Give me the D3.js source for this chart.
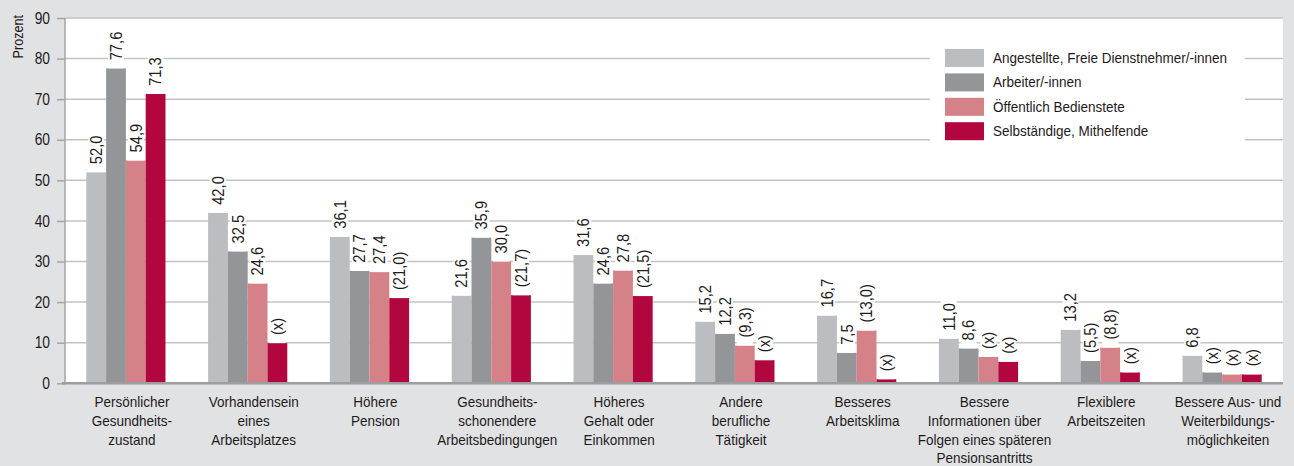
<!DOCTYPE html>
<html>
<head>
<meta charset="utf-8">
<script src="https://cdn.jsdelivr.net/npm/d3@7"></script>
<style>
  body { margin: 0; background: #e1e2e4; }
  svg { display: block; font-family: "Liberation Sans Narrow", "Arial Narrow", "Liberation Sans", sans-serif; }
</style>
</head>
<body>
<svg id="chart" width="1294" height="466"></svg>
<script>
// Categories (multi-line labels)
const categories = [
  ["Persönlicher", "Gesundheits-", "zustand"],
  ["Vorhandensein", "eines", "Arbeitsplatzes"],
  ["Höhere", "Pension"],
  ["Gesundheits-", "schonendere", "Arbeitsbedingungen"],
  ["Höheres", "Gehalt oder", "Einkommen"],
  ["Andere", "berufliche", "Tätigkeit"],
  ["Besseres", "Arbeitsklima"],
  ["Bessere", "Informationen über", "Folgen eines späteren", "Pensionsantritts"],
  ["Flexiblere", "Arbeitszeiten"],
  ["Bessere Aus- und", "Weiterbildungs-", "möglichkeiten"]
];

const seriesNames = [
  "Angestellte, Freie Dienstnehmer/-innen",
  "Arbeiter/-innen",
  "Öffentlich Bedienstete",
  "Selbständige, Mithelfende"
];
const seriesColors = ["#bcbdc1", "#939598", "#d48187", "#b1063e"];

// Values in percent
const angestellte = [52.0, 42.0, 36.1, 21.6, 31.6, 15.2, 16.7, 11.0, 13.2, 6.8];
const arbeiter    = [77.6, 32.5, 27.7, 35.9, 24.6, 12.2, 7.5, 8.6, 5.5, 2.7];
const oeffentlich = [54.9, 24.6, 27.4, 30.0, 27.8, 9.3, 13.0, 6.5, 8.8, 2.2];
const selbst      = [71.3, 9.9, 21.0, 21.7, 21.5, 5.7, 1.0, 5.3, 2.7, 2.2];

// Reliability flags: "n" = shown, "p" = shown in parentheses, "x" = not shown
const angestellteFlags = ["n","n","n","n","n","n","n","n","n","n"];
const arbeiterFlags    = ["n","n","n","n","n","n","n","n","p","x"];
const oeffentlichFlags = ["n","n","n","n","n","p","p","x","p","x"];
const selbstFlags      = ["n","x","p","p","p","x","x","x","x","x"];

const yTicks = [0, 10, 20, 30, 40, 50, 60, 70, 80, 90];
const yLabel = "Prozent";

const seriesValues = [angestellte, arbeiter, oeffentlich, selbst];
const seriesFlags = [angestellteFlags, arbeiterFlags, oeffentlichFlags, selbstFlags];

const svg = d3.select("#chart");
const plotLeft = 65, plotRight = 1283, plotTop = 18, plotBottom = 383.3;
const textColor = "#1e1a1b";
const squeeze = 0.9;

// Narrow the glyphs horizontally to get a condensed type look
function condense(sel, f) {
  sel.each(function () {
    const len = this.getComputedTextLength();
    d3.select(this).attr("textLength", len * f).attr("lengthAdjust", "spacingAndGlyphs");
  });
}

const x = d3.scaleBand().domain(d3.range(categories.length))
  .range([plotLeft, plotRight]).paddingInner(0.35).paddingOuter(0.175);
const xs = d3.scaleBand().domain(d3.range(seriesNames.length)).range([0, x.bandwidth()]);
const y = d3.scaleLinear().domain([0, 90]).range([plotBottom, plotTop]);

// Plot background
svg.append("rect").attr("x", plotLeft).attr("y", plotTop)
  .attr("width", plotRight - plotLeft).attr("height", plotBottom - plotTop).attr("fill", "#fff");

// Gridlines
svg.append("g").selectAll("line").data(yTicks.filter(d => d > 0)).join("line")
  .attr("x1", plotLeft).attr("x2", plotRight)
  .attr("y1", d => y(d)).attr("y2", d => y(d))
  .attr("stroke", "#c3c3c5").attr("stroke-width", 1.5);

// Y axis
const yAxis = svg.append("g").attr("transform", `translate(${plotLeft},0)`)
  .call(d3.axisLeft(y).tickValues(yTicks).tickSize(8).tickPadding(7).tickFormat(d3.format("d")));
yAxis.select(".domain").attr("stroke", "#a5a5a8").attr("stroke-width", 1.5).attr("d", `M0,${plotTop}V${plotBottom}`);
yAxis.selectAll(".tick line").attr("stroke", "#a5a5a8").attr("stroke-width", 1.5);
yAxis.selectAll(".tick text").attr("font-size", 16).attr("fill", textColor)
  .style("font-family", "inherit").call(condense, 0.86);

svg.append("text").attr("transform", `translate(23,${plotTop - 3}) rotate(-90)`)
  .attr("text-anchor", "end").attr("font-size", 14).attr("fill", textColor)
  .text(yLabel).call(condense, squeeze);

// Legend box
const legend = svg.append("g");
legend.append("rect").attr("x", 930).attr("y", 38).attr("width", 315).attr("height", 107).attr("fill", "#fff");
seriesNames.forEach((name, i) => {
  const yy = 49 + i * 24.4;
  legend.append("rect").attr("x", 945).attr("y", yy).attr("width", 39).attr("height", 18)
    .attr("fill", seriesColors[i]);
  legend.append("text").attr("x", 993).attr("y", yy + 14).attr("font-size", 15)
    .attr("fill", textColor).text(name).call(condense, squeeze);
});

// Bars
const fmt = v => d3.format(".1f")(v).replace(".", ",");
const barData = [];
seriesValues.forEach((vals, s) => {
  vals.forEach((v, c) => barData.push({ c, s, v, flag: seriesFlags[s][c] }));
});

svg.append("g").selectAll("rect").data(barData).join("rect")
  .attr("x", d => x(d.c) + xs(d.s))
  .attr("width", xs.bandwidth())
  .attr("y", d => y(d.v))
  .attr("height", d => y(0) - y(d.v))
  .attr("fill", d => seriesColors[d.s]);

// Value labels (rotated, on white background)
const labels = svg.append("g");
barData.forEach(d => {
  const txt = d.flag === "x" ? "(x)" : d.flag === "p" ? `(${fmt(d.v)})` : fmt(d.v);
  const cx = x(d.c) + xs(d.s) + xs.bandwidth() / 2;
  const base = y(d.v) - 8;
  const bg = labels.append("rect").attr("fill", "#fff");
  const t = labels.append("text")
    .attr("transform", `translate(${cx},${base}) rotate(-90)`)
    .attr("text-anchor", "start").attr("dy", "0.36em")
    .attr("font-size", 16).attr("fill", textColor).text(txt);
  const len = t.node().getComputedTextLength() * 0.92;
  t.attr("textLength", len).attr("lengthAdjust", "spacingAndGlyphs");
  bg.attr("x", cx - 8).attr("y", base - len - 3).attr("width", 16).attr("height", len + 3 + 8);
});

// Baseline
svg.append("line").attr("x1", plotLeft - 3).attr("x2", plotRight)
  .attr("y1", plotBottom).attr("y2", plotBottom)
  .attr("stroke", "#9d9ea1").attr("stroke-width", 2.5);

// Category labels, one text per line
const cat = svg.append("g");
categories.forEach((lines, c) => {
  lines.forEach((ln, i) => {
    cat.append("text").attr("text-anchor", "middle").attr("font-size", 15).attr("fill", textColor)
      .attr("x", x(c) + x.bandwidth() / 2 + 6).attr("y", 407 + i * 18.8).text(ln)
      .call(condense, squeeze);
  });
});
</script>
</body>
</html>
